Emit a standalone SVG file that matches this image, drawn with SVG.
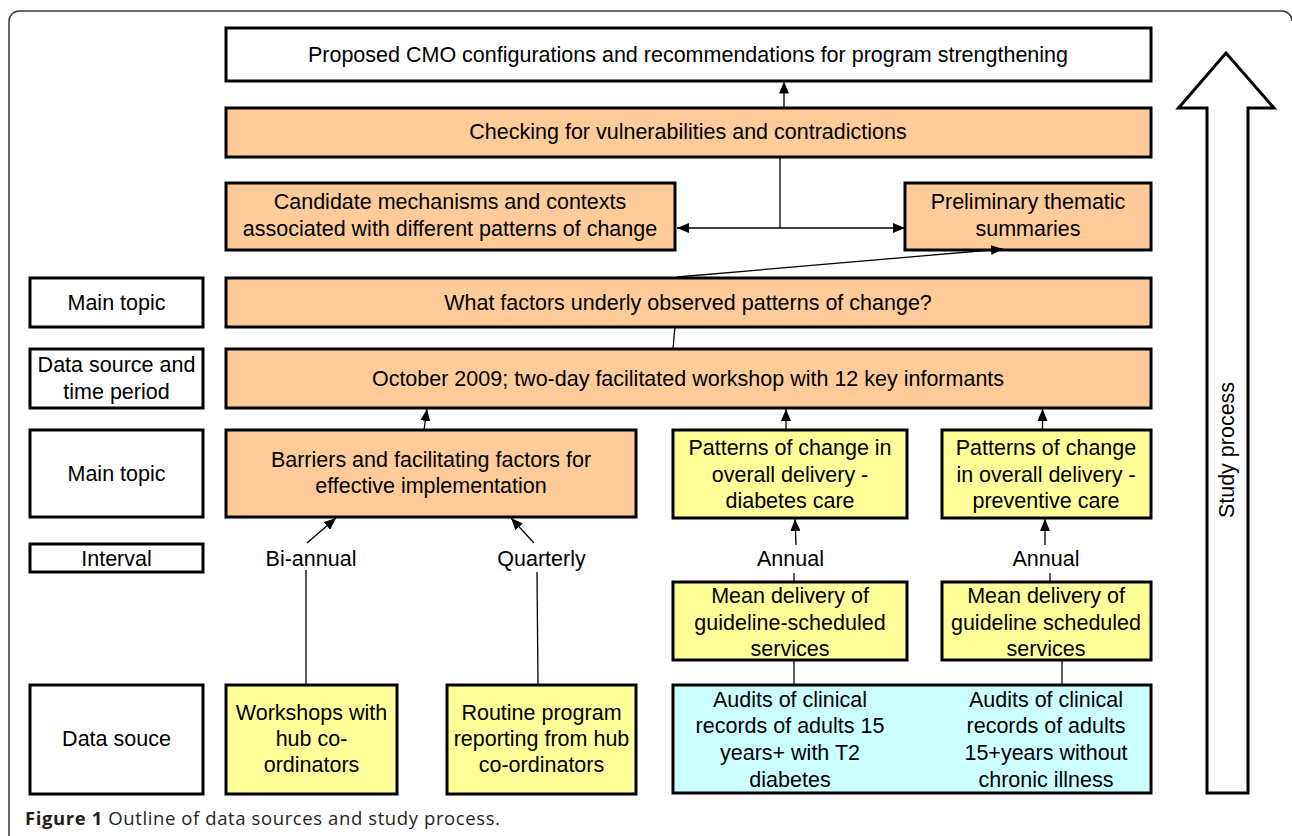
<svg xmlns="http://www.w3.org/2000/svg" width="1292" height="836" viewBox="0 0 1292 836">
<style>
.box{stroke:#000;stroke-width:3}
.w{fill:#fff}.p{fill:#FFCC99}.y{fill:#FFFF99}.c{fill:#CCFFFF}
text{font-family:"Liberation Sans",Arial,sans-serif;font-size:21.5px;fill:#000;text-anchor:middle}
.con line,.con path{stroke:#000;stroke-width:1.3;fill:none}
.cap{font-family:"Open Sans","Liberation Sans",sans-serif;font-size:18.5px;letter-spacing:0.6px;fill:#231f20;text-anchor:start}
</style>
<defs>
<marker id="ah" markerUnits="userSpaceOnUse" markerWidth="12" markerHeight="10" refX="12" refY="5" orient="auto">
<path d="M0,0 L12,5 L0,10 z" fill="#000"/>
</marker>
<marker id="as" markerUnits="userSpaceOnUse" markerWidth="12" markerHeight="10" refX="0" refY="5" orient="auto">
<path d="M12,0 L0,5 L12,10 z" fill="#000"/>
</marker>
</defs>
<path d="M9,836 V21 A10,10 0 0 1 19,11 H1282 A10,10 0 0 1 1292,21" fill="none" stroke="#3a3a3a" stroke-width="1.5"/>

<g id="proposed"><rect class="box w" x="226" y="28" width="925" height="53"/><text x="688" y="61.5">Proposed CMO configurations and recommendations for program strengthening</text></g>
<g id="checking"><rect class="box p" x="226" y="108" width="925" height="49"/><text x="688" y="138.5">Checking for vulnerabilities and contradictions</text></g>
<g id="candidate"><rect class="box p" x="226" y="183" width="449" height="67"/><text x="450" y="209">Candidate mechanisms and contexts</text><text x="450" y="236">associated with different patterns of change</text></g>
<g id="preliminary"><rect class="box p" x="905" y="183" width="246" height="67"/><text x="1028" y="209">Preliminary thematic</text><text x="1028" y="236">summaries</text></g>

<g id="label-main1"><rect class="box w" x="30" y="278" width="173" height="49"/><text x="116.5" y="310">Main topic</text></g>
<g id="whatfactors"><rect class="box p" x="226" y="278" width="925" height="49"/><text x="688" y="310">What factors underly observed patterns of change?</text></g>

<g id="label-datasource"><rect class="box w" x="30" y="349" width="173" height="59"/><text x="116.5" y="372">Data source and</text><text x="116.5" y="399">time period</text></g>
<g id="october"><rect class="box p" x="226" y="349" width="925" height="59"/><text x="688" y="386">October 2009; two-day facilitated workshop with 12 key informants</text></g>

<g id="label-main2"><rect class="box w" x="30" y="430" width="173" height="87"/><text x="116.5" y="481">Main topic</text></g>
<g id="barriers"><rect class="box p" x="226" y="430" width="410" height="87"/><text x="431" y="467">Barriers and facilitating factors for</text><text x="431" y="493">effective implementation</text></g>
<g id="patterns1"><rect class="box y" x="673" y="430" width="234" height="88"/><text x="790" y="455">Patterns of change in</text><text x="790" y="481.5">overall delivery -</text><text x="790" y="508">diabetes care</text></g>
<g id="patterns2"><rect class="box y" x="942" y="430" width="209" height="88"/><text x="1046" y="455">Patterns of change</text><text x="1046" y="481.5">in overall delivery -</text><text x="1046" y="508">preventive care</text></g>

<g id="label-interval"><rect class="box w" x="30" y="544" width="173" height="28"/><text x="116.5" y="566">Interval</text></g>
<g id="biannual"><text x="311" y="566">Bi-annual</text></g>
<g id="quarterly"><text x="541.5" y="566">Quarterly</text></g>
<g id="annual1"><text x="790.5" y="566">Annual</text></g>
<g id="annual2"><text x="1046" y="566">Annual</text></g>

<g id="mean1"><rect class="box y" x="673" y="582" width="234" height="78"/><text x="790" y="603">Mean delivery of</text><text x="790" y="630">guideline-scheduled</text><text x="790" y="656">services</text></g>
<g id="mean2"><rect class="box y" x="942" y="582" width="209" height="78"/><text x="1046" y="603">Mean delivery of</text><text x="1046" y="630">guideline scheduled</text><text x="1046" y="656">services</text></g>

<g id="label-datasouce"><rect class="box w" x="30" y="685" width="173" height="109"/><text x="116.5" y="746">Data souce</text></g>
<g id="workshops"><rect class="box y" x="226" y="685" width="171" height="109"/><text x="311.5" y="720">Workshops with</text><text x="311.5" y="746">hub co-</text><text x="311.5" y="772">ordinators</text></g>
<g id="routine"><rect class="box y" x="447" y="685" width="189" height="109"/><text x="541.5" y="720">Routine program</text><text x="541.5" y="746">reporting from hub</text><text x="541.5" y="772">co-ordinators</text></g>
<g id="audits"><rect class="box c" x="673" y="685" width="478" height="108"/><text x="790" y="707">Audits of clinical</text><text x="790" y="733">records of adults 15</text><text x="790" y="760">years+ with T2</text><text x="790" y="786.5">diabetes</text><text x="1046" y="707">Audits of clinical</text><text x="1046" y="733">records of adults</text><text x="1046" y="760">15+years without</text><text x="1046" y="786.5">chronic illness</text></g>

<g id="study-process">
<polygon points="1207,793 1207,108 1178.5,108 1226,53 1274,108 1248,108 1248,793" fill="#fff" stroke="#000" stroke-width="3"/>
<text transform="translate(1234,450) rotate(-90)" x="0" y="0">Study process</text>
</g>

<g id="connectors" class="con">
<line x1="784" y1="108" x2="784" y2="81.5" marker-end="url(#ah)"/>
<line x1="780" y1="157" x2="780" y2="228"/>
<line x1="677" y1="228" x2="905" y2="228" marker-start="url(#as)" marker-end="url(#ah)"/>
<line x1="677" y1="277" x2="1003" y2="249" marker-end="url(#ah)"/>
<line x1="675" y1="326" x2="673" y2="349"/>
<line x1="424" y1="430" x2="427" y2="409" marker-end="url(#ah)"/>
<line x1="786" y1="430" x2="786" y2="409" marker-end="url(#ah)"/>
<line x1="1042.5" y1="430" x2="1042.5" y2="409" marker-end="url(#ah)"/>
<line x1="307" y1="543" x2="336" y2="518" marker-end="url(#ah)"/>
<line x1="534" y1="543" x2="511" y2="518" marker-end="url(#ah)"/>
<line x1="306" y1="570" x2="306" y2="684"/>
<line x1="537" y1="572" x2="538" y2="685"/>
<line x1="796" y1="545" x2="795" y2="519" marker-end="url(#ah)"/>
<line x1="1045" y1="545" x2="1045" y2="519" marker-end="url(#ah)"/>
<line x1="794" y1="573" x2="794" y2="582"/>
<line x1="1050" y1="573" x2="1050" y2="582"/>
<line x1="794" y1="660" x2="794" y2="685"/>
<line x1="1062" y1="660" x2="1062" y2="685"/>
</g>

<text class="cap" x="25" y="825"><tspan font-weight="bold">Figure 1</tspan> Outline of data sources and study process.</text>
</svg>
